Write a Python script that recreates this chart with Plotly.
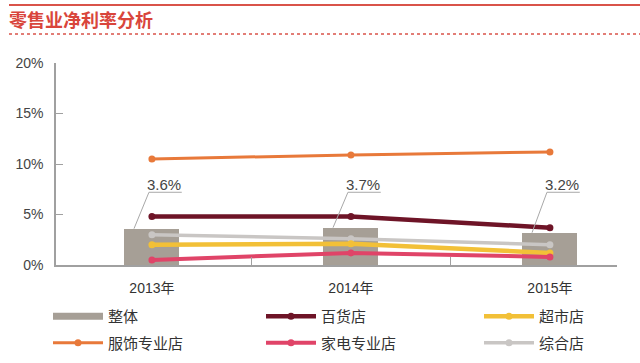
import plotly.graph_objects as go

years = ["2013年", "2014年", "2015年"]
overall = [3.6, 3.7, 3.2]
overall_labels = ["3.6%", "3.7%", "3.2%"]
dept = [4.8, 4.8, 3.7]          # 百货店
supermarket = [2.0, 2.1, 1.2]   # 超市店
apparel = [10.5, 10.9, 11.2]    # 服饰专业店
appliance = [0.5, 1.2, 0.8]     # 家电专业店
general = [3.0, 2.6, 2.0]       # 综合店
y_ticks = [0, 5, 10, 15, 20]
y_tick_labels = ["0%", "5%", "10%", "15%", "20%"]

FONT = "Liberation Sans, Noto Sans CJK SC, sans-serif"
CJK = "Noto Sans CJK SC, Liberation Sans, sans-serif"
BAR_C = "#A69F96"
AXIS_C = "#A0A0A0"

fig = go.Figure()
fig.add_trace(go.Bar(x=years, y=overall, width=0.276, marker=dict(color=BAR_C, line=dict(width=0)),
                     showlegend=False, hoverinfo="skip"))

# legend swatch for the bar series
fig.add_trace(go.Scatter(x=[None], y=[None], mode="lines", name="整体", legend="legend",
                         legendgroup="g1", legendrank=1, line=dict(color=BAR_C, width=7)))

lines = [
    ("服饰专业店", apparel, "#E8793A", 3, "legend", "g2", 2),
    ("百货店", dept, "#6E1427", 4.5, "legend2", "g3", 1),
    ("家电专业店", appliance, "#E04468", 4, "legend2", "g4", 2),
    ("超市店", supermarket, "#F2C037", 4.5, "legend3", "g5", 1),
    ("综合店", general, "#C9C6C4", 3.5, "legend3", "g6", 2),
]
draw_order = ["综合店", "超市店", "家电专业店", "百货店", "服饰专业店"]
for dn in draw_order:
    for name, vals, col, w, lg, grp, rk in lines:
        if name == dn:
            fig.add_trace(go.Scatter(x=years, y=vals, mode="lines+markers", name=name, legend=lg,
                                     legendgroup=grp, legendrank=rk, line=dict(color=col, width=w),
                                     marker=dict(color=col, size=7)))

shapes = []
annotations = []
for i, (v, lab) in enumerate(zip(overall, overall_labels)):
    shapes.append(dict(type="line", xref="x", yref="y", x0=i - 0.09, y0=v, x1=i - 0.015, y1=7.2,
                       line=dict(color="#A8A8A8", width=1)))
    shapes.append(dict(type="line", xref="x", yref="y", x0=i - 0.015, y0=7.2, x1=i + 0.15, y1=7.2,
                       line=dict(color="#A8A8A8", width=1)))
    annotations.append(dict(x=i + 0.063, y=8.0, xref="x", yref="y", text=lab, showarrow=False,
                            font=dict(family=FONT, size=15, color="#444"),
                            xanchor="center", yanchor="middle"))

px0, px1 = 56, 617
def pxx(p):
    return (p - px0) / (px1 - px0)
def pxy(p):
    return (265 - p) / 202.0

shapes.append(dict(type="line", xref="paper", yref="paper", x0=pxx(9), x1=pxx(640), y0=pxy(5), y1=pxy(5),
                   line=dict(color="#D9534A", width=2)))
shapes.append(dict(type="line", xref="paper", yref="paper", x0=pxx(9), x1=pxx(640), y0=pxy(34), y1=pxy(34),
                   line=dict(color="#D9534A", width=1.5, dash="dot")))

def leg(xpx):
    return dict(orientation="v", xref="container", yref="container", x=xpx / 640, xanchor="left",
                y=1 - 300 / 363, yanchor="top", itemwidth=50, tracegroupgap=4,
                traceorder="grouped", font=dict(family=CJK, size=15, color="#333"),
                bgcolor="rgba(0,0,0,0)", borderwidth=0)

fig.update_layout(
    width=640, height=363,
    margin=dict(l=56, r=23, t=63, b=98, pad=0, autoexpand=False),
    paper_bgcolor="white", plot_bgcolor="white",
    font=dict(family=FONT, size=14, color="#444"),
    title=dict(text="<b>零售业净利率分析</b>", font=dict(family=CJK, size=18, color="#D9453B"),
               xref="container", yref="container", x=9 / 640, xanchor="left",
               y=1 - 20.7 / 363, yanchor="middle"),
    xaxis=dict(type="category", range=[-0.482, 2.337], showline=True, linecolor=AXIS_C, linewidth=1.5,
               ticks="inside", ticklen=8, tickcolor=AXIS_C, tickwidth=1, tickson="boundaries",
               showgrid=False, zeroline=False, ticklabelstandoff=9, automargin=False,
               tickfont=dict(family=FONT, size=14, color="#333")),
    yaxis=dict(range=[0, 20], tickvals=y_ticks, ticktext=y_tick_labels, showline=True, linecolor=AXIS_C,
               linewidth=1.5, ticks="inside", ticklen=7, tickcolor=AXIS_C, tickwidth=1, showgrid=False,
               zeroline=False, ticklabelstandoff=8, automargin=False,
               tickfont=dict(family=FONT, size=14, color="#444")),
    legend=leg(48), legend2=leg(261), legend3=leg(479),
    shapes=shapes, annotations=annotations,
    bargap=0,
)
fig.write_html("out.html", post_script="document.body.style.margin='0';",
               config={"displayModeBar": False})
